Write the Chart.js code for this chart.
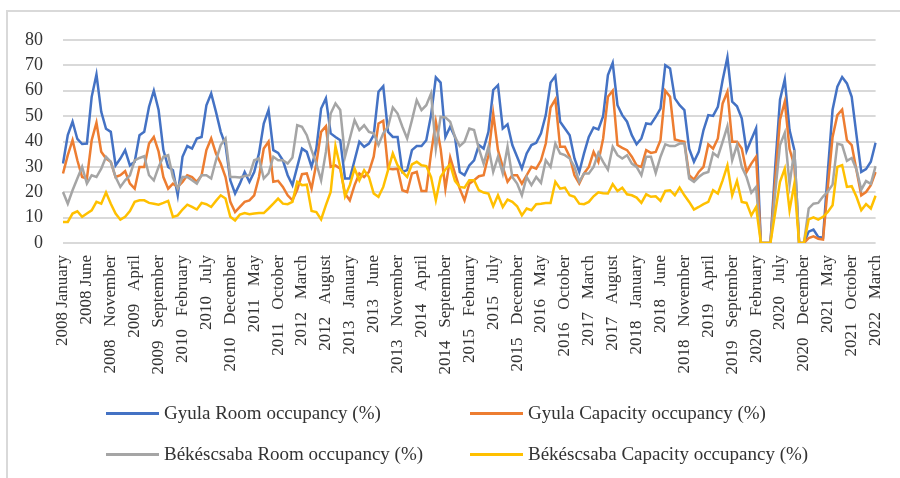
<!DOCTYPE html>
<html>
<head>
<meta charset="utf-8">
<script src="https://cdn.jsdelivr.net/npm/chart.js@4.4.1/dist/chart.umd.min.js"></script>
<style>
  html, body { margin: 0; padding: 0; background: #fff; overflow: hidden; }
  #wrap { position: relative; width: 900px; height: 478px; overflow: hidden; }
  #frame { position: absolute; left: 6px; top: 10px; width: 1000px; height: 1000px; border: 2px solid #d9d9d9; }
  #box { position: absolute; left: 0; top: 0; width: 900px; height: 395px; }
  #legend { position: absolute; left: 0; top: 0; width: 900px; height: 478px; font: 19px 'Liberation Serif', serif; color: #333; pointer-events: none; }
  .item { position: absolute; height: 22px; display: flex; align-items: center; white-space: nowrap; }
  .swatch { width: 53px; height: 3px; margin-right: 5px; }
</style>
</head>
<body>
<div id="wrap">
  <div id="frame"></div>
  <div id="box"><canvas id="chart"></canvas></div>
  <div id="legend"></div>
</div>
<script>
// month categories, Jan 2008 .. Mar 2022
const monthNames = ['January', 'February', 'March', 'April', 'May', 'June', 'July',
  'August', 'September', 'October', 'November', 'December'];
const years = [2008, 2009, 2010, 2011, 2012, 2013, 2014, 2015, 2016, 2017, 2018, 2019, 2020, 2021, 2022];
const lastMonthOf2022 = 3;
const labels = [];
years.forEach(y => {
  const n = y === 2022 ? lastMonthOf2022 : 12;
  for (let m = 0; m < n; m++) labels.push(y + ' ' + monthNames[m]);
});

// every 5th month is labelled (spacing as in the original axis)
const labelEvery = 5;
const tickLabels = [
  '2008 January', '2008 June', '2008   November', '2009   April', '2009   September',
  '2010   February', '2010   July', '2010   December', '2011   May', '2011   October',
  '2012   March', '2012   August', '2013   January', '2013   June', '2013   November',
  '2014   April', '2014   September', '2015   February', '2015   July', '2015   December',
  '2016   May', '2016   October', '2017   March', '2017   August', '2018   January',
  '2018   June', '2018   November', '2019   April', '2019   September', '2020   February',
  '2020   July', '2020   December', '2021   May', '2021   October', '2022   March'
];
const yTicks = { min: 0, max: 80, step: 10 };

const gyulaRoom = [
  31.3, 42.5, 47.8, 41, 39, 39.2, 57.6, 66.4, 51.7, 45, 43.8, 30.6,
  33.3, 36.6, 30.6, 32, 42.5, 43.8, 53.7, 60, 52.4, 36.6, 30, 28.7,
  18.8, 34, 38.2, 37.2, 41.2, 41.8, 54.3, 58.9, 51.7, 43.8, 38.6, 24.7,
  19.5, 23.4, 28, 24.1, 28, 35.3, 47.1, 52.4, 36.6, 35.5, 32.6, 26.7,
  22.8, 30, 37.2, 35.9, 30, 37.2, 53, 57, 43.2, 41.8, 40.5, 25.4,
  25.4, 32.6, 39.9, 37.9, 39.2, 42.5, 59.6, 61.8, 43.8, 41.8, 41.8, 28,
  28.7, 36.6, 38.2, 38.2, 40.5, 50.4, 65.3, 63.2, 41.8, 45.8, 41.8, 28,
  26.7, 30.6, 32.6, 38.6, 37.2, 43.8, 60.3, 62.2, 45.1, 46.8, 38.6, 34,
  29.3, 35.3, 38.6, 39.5, 43.2, 50.4, 63.2, 65.8, 47.8, 45.1, 42.5, 33.3,
  28, 35.3, 41.8, 45.5, 44.8, 50, 66.2, 71, 54.3, 50.4, 47.8, 42.5,
  38.9, 41.2, 47.1, 46.8, 49.7, 53, 70.1, 68.8, 57, 54.3, 52.4, 37.2,
  32, 35.9, 44.5, 50.4, 50.1, 53.7, 64.2, 73.2, 55.7, 53.9, 49.1, 36.2,
  40.8, 45.2, 0, 0, 0, 30, 56.5, 64.5, 44.5, 36.7, 0, 0,
  4.5, 5.3, 2.4, 2.1, 28, 52.5, 61.6, 65.4, 62.9, 57.6, 42.5, 28,
  29.1, 32, 39.5
];
const gyulaCapacity = [
  27.4, 34.6, 40.5, 32.6, 26, 25.4, 40.5, 47.4, 36, 33.3, 32, 26,
  26.7, 28.3, 23.4, 21.4, 30, 30, 39.2, 41.8, 36, 26, 21.4, 23.4,
  22.1, 24.1, 26.7, 26, 24.1, 26.7, 36.6, 41.2, 35.3, 31.3, 26, 16.2,
  12.2, 14.2, 16.2, 16.8, 18.8, 26, 37.2, 39.9, 24.1, 24.5, 22.1, 18.8,
  16.8, 21, 27.1, 27.4, 21.4, 31.3, 43.8, 46, 30, 30.6, 29.3, 19.5,
  16.8, 22.8, 27.4, 26, 28, 34, 47.1, 48.2, 29.3, 29.1, 29.3, 20.8,
  20.1, 27.4, 28, 20.5, 20.5, 35.3, 47.8, 37.2, 21.4, 33.7, 27.4, 21.4,
  16.8, 23.4, 24.7, 26.3, 26.7, 34.6, 51, 36.6, 30, 24.1, 26.7, 26.7,
  23.4, 26.7, 30, 29.3, 32.6, 39.2, 53.4, 56.6, 37.9, 37.9, 34, 26.7,
  23.4, 27.4, 30, 35.9, 32, 41.2, 57.6, 60, 38.6, 37.5, 36.6, 34,
  30.6, 30, 36.6, 35.5, 35.9, 40.5, 60, 57.6, 40.8, 40.3, 39.9, 26.7,
  25, 28, 30, 38.9, 37.2, 41.2, 55, 59.6, 39.9, 39.9, 37.2, 28,
  31.3, 34, 0, 0, 0, 25, 48.6, 55.7, 37, 30.5, 0, 0,
  1.9, 2.6, 1.7, 1.4, 22, 41.8, 50.4, 52.6, 40.5, 38.6, 28.7, 18.8,
  20.1, 22.8, 28
];
const bekescsabaRoom = [
  20.1, 15.5, 20.8, 25.4, 30, 23.4, 26.7, 26, 29.3, 34, 32, 26,
  22.1, 24.7, 26.7, 32.6, 33.5, 34.2, 26.7, 24.7, 30, 34, 34.6, 26,
  21.4, 26, 26, 24.7, 23.4, 26.7, 26.7, 25.4, 32.6, 38.6, 41.2, 26,
  26, 25.8, 26.4, 26.7, 32.6, 33.3, 25.4, 27.4, 34, 32.6, 32.6, 31.3,
  33.7, 46.4, 45.8, 42.5, 36.6, 31.3, 24.7, 35.9, 51, 55, 52.4, 34,
  41.2, 48.4, 44.5, 46.4, 43.8, 43.2, 38.6, 43.2, 45.8, 53.4, 51, 45.8,
  41.2, 48.4, 56.3, 52.4, 54.3, 58.9, 37.2, 49.7, 49.5, 47.8, 41.8, 38.2,
  39.9, 45.1, 44.5, 37.2, 31.3, 37.9, 28, 34, 27.4, 37.9, 26, 23.4,
  18.8, 26, 22.8, 26, 23.7, 32.6, 30, 39.2, 35.3, 34.6, 33.3, 30,
  24.1, 27.4, 27.4, 30, 35.5, 32, 28.9, 37.9, 34.6, 33.3, 34.6, 31.3,
  30, 26.7, 34, 34, 27.6, 34, 38.9, 38.2, 38.2, 39.2, 39.2, 25.4,
  24.1, 26, 27.4, 28, 35.5, 34, 39.9, 46, 32.6, 38.6, 30, 26,
  19.8, 22.1, 0, 0, 0, 20, 38.6, 43.4, 23, 36.6, 0, 0,
  13.6, 15.5, 15.8, 18.3, 20.3, 23, 39.2, 38.6, 32.4, 33.5, 29, 21,
  24.4, 23.3, 30.3
];
const bekescsabaCapacity = [
  8.3, 8.3, 11.6, 12.5, 10.3, 11.6, 12.9, 16.2, 15.5, 19.9, 15.5, 11.6,
  9.2, 10.3, 12.6, 16.2, 16.8, 16.8, 15.8, 15.5, 15.1, 15.8, 16.6, 10.3,
  10.9, 13.2, 15.1, 14.2, 13.2, 15.8, 15.3, 14.2, 16.6, 18.8, 17.5, 10.3,
  8.9, 11.2, 11.8, 11.3, 11.6, 11.8, 11.8, 13.6, 15.5, 17.5, 15.5, 15.3,
  16.2, 24.1, 22.8, 23, 12.6, 12.2, 9.3, 14.9, 20.1, 38.2, 30, 18.4,
  22.8, 29.3, 24.7, 28.7, 26, 19.5, 18.2, 22.1, 28.7, 35.3, 30.6, 28,
  26, 31, 32, 30.6, 30.3, 26, 16.8, 26, 29, 31, 24.5, 22.1,
  21.8, 24.7, 24.7, 20.8, 19.9, 19.5, 14.5, 18.8, 14.2, 17.1, 16.2, 14.5,
  10.9, 13.6, 12.9, 15.3, 15.5, 15.8, 15.8, 24.1, 21.4, 21.8, 18.8, 18.2,
  15.5, 15.3, 16.2, 18.4, 20, 19.6, 19.5, 23.2, 20.5, 21.8, 19.2, 18.8,
  17.9, 15.8, 19.2, 18.2, 18.4, 16.6, 20.5, 20.8, 18.8, 21.8, 18.8, 16.2,
  13.2, 14.2, 15.3, 16.2, 20.8, 19.5, 24.7, 30.6, 18.8, 24.5, 16.2, 15.8,
  10.9, 14.2, 0, 0, 0, 12, 24.1, 29.3, 12.9, 23.3, 0, 0,
  9.3, 10.1, 9.2, 10.3, 12.2, 14.9, 30, 30.7, 22.1, 22.4, 18.2, 12.9,
  15.3, 13.6, 18.6
];

const FONT = "'Liberation Serif', 'Times New Roman', serif";
const INK = '#333333';
const GRID = '#d9d9d9';

function series(label, data, color, order) {
  return { label, data, borderColor: color, backgroundColor: color, borderWidth: 2.5,
    pointRadius: 0, pointHoverRadius: 0, tension: 0, fill: false, order };
}

const chart = new Chart(document.getElementById('chart').getContext('2d'), {
  type: 'line',
  data: {
    labels,
    datasets: [
      series('Gyula Room occupancy (%)', gyulaRoom, '#4472C4', 4),
      series('Gyula Capacity occupancy (%)', gyulaCapacity, '#ED7D31', 3),
      series('Békéscsaba Room occupancy (%)', bekescsabaRoom, '#A5A5A5', 2),
      series('Békéscsaba Capacity occupancy (%)', bekescsabaCapacity, '#FFC000', 1)
    ]
  },
  options: {
    responsive: true, maintainAspectRatio: false, animation: false,
    layout: { padding: { left: 0, right: 17, top: 40, bottom: 0 } },
    plugins: { legend: { display: false }, tooltip: { enabled: false } },
    scales: {
      x: {
        offset: false,
        grid: { display: false },
        border: { display: false },
        afterFit: s => { s.height = 152; },
        ticks: {
          autoSkip: false, maxRotation: 90, minRotation: 90, padding: 4,
          color: INK, font: { family: FONT, size: 17 },
          callback: (v, i) => i % labelEvery === 0 ? tickLabels[i / labelEvery] : null
        }
      },
      y: {
        min: yTicks.min, max: yTicks.max,
        border: { display: false },
        grid: { color: GRID, lineWidth: 2, drawTicks: false },
        afterFit: s => { s.width = 63; },
        ticks: { stepSize: yTicks.step, padding: 20, color: INK, font: { family: FONT, size: 18 } }
      }
    }
  }
});

// 2 x 2 legend like the original
const legend = document.getElementById('legend');
const cols = [106, 470], rows = [402, 443];
chart.data.datasets.forEach((ds, i) => {
  const it = document.createElement('div');
  it.className = 'item';
  it.style.left = cols[i % 2] + 'px';
  it.style.top = rows[Math.floor(i / 2)] + 'px';
  it.innerHTML = '<span class="swatch" style="background:' + ds.borderColor + '"></span>';
  it.appendChild(document.createTextNode(ds.label));
  legend.appendChild(it);
});
</script>
</body>
</html>
